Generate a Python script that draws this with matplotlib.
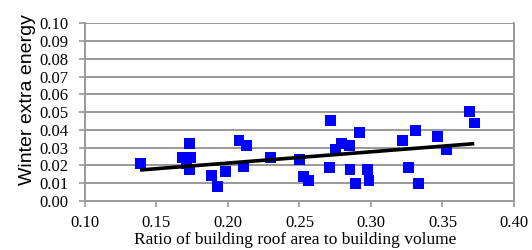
import numpy as np
import matplotlib
matplotlib.use("Agg")
import matplotlib.pyplot as plt

# Data
ratio = [0.1385, 0.168, 0.174, 0.1734, 0.1734, 0.171,
         0.1886, 0.1925, 0.1983, 0.2077, 0.2131, 0.2107, 0.2294,
         0.2499, 0.2527, 0.2566, 0.2716, 0.2713, 0.2755, 0.2794,
         0.2848, 0.2853, 0.2893, 0.2918, 0.2974, 0.2986,
         0.3219, 0.3261, 0.3312, 0.3329, 0.3464, 0.3531, 0.3692, 0.3722]
energy = [0.0212, 0.0245, 0.0245, 0.0321, 0.0175, 0.0210,
          0.0146, 0.0081, 0.0165, 0.0339, 0.0311, 0.0193, 0.0246,
          0.0231, 0.0137, 0.0114, 0.0452, 0.0190, 0.0291, 0.0325,
          0.0310, 0.0178, 0.0101, 0.0387, 0.0178, 0.0114,
          0.0341, 0.0190, 0.0398, 0.0101, 0.0364, 0.0287, 0.0506, 0.0439]

x_ticks = [0.10, 0.15, 0.20, 0.25, 0.30, 0.35, 0.40]
y_ticks = [0.00, 0.01, 0.02, 0.03, 0.04, 0.05, 0.06, 0.07, 0.08, 0.09, 0.10]

serif = ["Liberation Serif", "DejaVu Serif"]
sans = ["Liberation Sans", "DejaVu Sans"]

fig = plt.figure(figsize=(5.32, 2.5), dpi=100)
ax = fig.add_axes([85 / 532, 49 / 250, 429 / 532, 177.7 / 250])

ax.set_xlim(0.10, 0.40)
ax.set_ylim(0.0, 0.10)
ax.set_yticks(y_ticks)
ax.set_xticks(x_ticks)
ax.set_yticklabels([f"{v:.2f}" for v in y_ticks], fontfamily=serif, fontsize=12)
ax.set_xticklabels([f"{v:.2f}" for v in x_ticks], fontfamily=serif, fontsize=12)

for y in y_ticks[1:]:
    ax.axhline(y, color="#999999", lw=1.4, zorder=0)

for side in ["left", "bottom", "right"]:
    ax.spines[side].set_color("#999999")
    ax.spines[side].set_linewidth(1.4)
ax.spines["top"].set_visible(False)
ax.tick_params(axis="both", color="#999999", width=1.2, length=4,
               direction="out", colors="black")
ax.tick_params(axis="x", pad=6, color="#999999")
ax.tick_params(axis="y", pad=8, color="#999999")

ax.scatter(ratio, energy, marker="s", s=62, color="#0000FF",
           edgecolors="none", zorder=3, clip_on=False)

coef = np.polyfit(ratio, energy, 1)
xs = np.array([min(ratio), max(ratio)])
ax.plot(xs, np.polyval(coef, xs), color="black", lw=2.6, zorder=4,
        solid_capstyle="butt")

ax.set_ylabel("Winter extra energy", fontfamily=sans, fontsize=14, labelpad=2)
ax.yaxis.label.set_position((0, 0.57))
ax.set_xlabel("Ratio of building roof area to building volume",
              fontfamily=serif, fontsize=12.5, labelpad=0.5)
ax.xaxis.label.set_position((0.49, 0))

fig.savefig("out.png", dpi=100)
